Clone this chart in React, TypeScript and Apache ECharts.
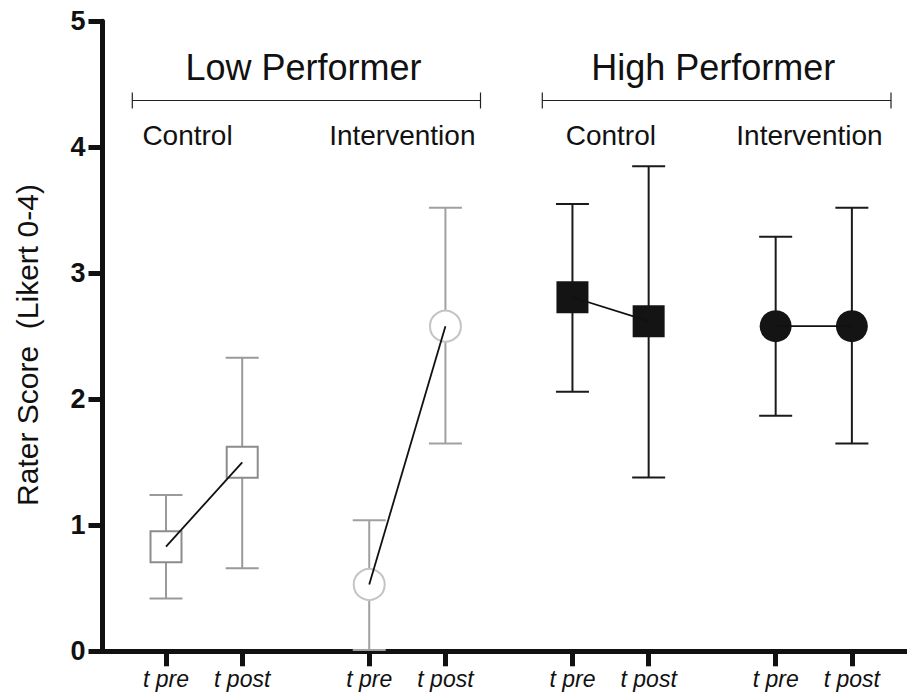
import React, { useEffect, useRef } from "react";
import * as echarts from "echarts";

// ---- data ----
const xLabels = ["t pre", "t post", "t pre", "t post", "t pre", "t post", "t pre", "t post"];
const xPositions = [2.5, 5.5, 10.5, 13.5, 18.5, 21.5, 26.5, 29.5];
const yTicks = [0, 1, 2, 3, 4, 5];

const lowControlMean = [0.83, 1.5];
const lowControlLow = [0.42, 0.66];
const lowControlHigh = [1.24, 2.33];

const lowInterventionMean = [0.53, 2.58];
const lowInterventionLow = [0.01, 1.65];
const lowInterventionHigh = [1.04, 3.52];

const highControlMean = [2.81, 2.62];
const highControlLow = [2.06, 1.38];
const highControlHigh = [3.55, 3.85];

const highInterventionMean = [2.58, 2.58];
const highInterventionLow = [1.87, 1.65];
const highInterventionHigh = [3.29, 3.52];

const groupTitles = ["Low Performer", "High Performer"];
const subTitles = ["Control", "Intervention", "Control", "Intervention"];
const yAxisTitle = "Rater Score  (Likert 0-4)";

const FONT = "'Liberation Sans', Arial, Helvetica, sans-serif";

export default function App() {
  const ref = useRef<HTMLDivElement>(null);
  useEffect(() => {
    document.body.style.margin = "0";
    const chart = echarts.init(ref.current!, null, { renderer: "svg" });

    const groups = [
      { mean: lowControlMean, lo: lowControlLow, hi: lowControlHigh, xi: [0, 1], symbol: "rect", size: 31, bar: "#9a9a9a", fill: "#ffffff", border: "#8c8c8c", bw: 2 },
      { mean: lowInterventionMean, lo: lowInterventionLow, hi: lowInterventionHigh, xi: [2, 3], symbol: "circle", size: 31, bar: "#a0a0a0", fill: "#ffffff", border: "#c4c4c4", bw: 2 },
      { mean: highControlMean, lo: highControlLow, hi: highControlHigh, xi: [4, 5], symbol: "rect", size: 32, bar: "#1a1a1a", fill: "#141414", border: "#141414", bw: 0 },
      { mean: highInterventionMean, lo: highInterventionLow, hi: highInterventionHigh, xi: [6, 7], symbol: "circle", size: 32, bar: "#1a1a1a", fill: "#141414", border: "#141414", bw: 0 },
    ];

    const series: any[] = [];
    groups.forEach((g) => {
      const barColor = g.bar;
      series.push({
        type: "custom",
        z: 1,
        silent: true,
        data: g.xi.map((xi, k) => [xPositions[xi], g.lo[k], g.hi[k]]),
        renderItem: (params: any, api: any) => {
          const x = api.value(0);
          const pLo = api.coord([x, api.value(1)]);
          const pHi = api.coord([x, api.value(2)]);
          const hw = 16.5;
          const style = { stroke: barColor, lineWidth: 2, fill: "none" };
          return {
            type: "group",
            children: [
              { type: "line", shape: { x1: pLo[0], y1: pLo[1], x2: pHi[0], y2: pHi[1] }, style },
              { type: "line", shape: { x1: pLo[0] - hw, y1: pLo[1], x2: pLo[0] + hw, y2: pLo[1] }, style },
              { type: "line", shape: { x1: pHi[0] - hw, y1: pHi[1], x2: pHi[0] + hw, y2: pHi[1] }, style },
            ],
          };
        },
      });
      series.push({
        type: "scatter",
        z: 2,
        symbol: g.symbol,
        symbolSize: g.size,
        data: g.xi.map((xi, k) => [xPositions[xi], g.mean[k]]),
        itemStyle: { color: g.fill, borderColor: g.border, borderWidth: g.bw, opacity: 1 },
        silent: true,
      });
      series.push({
        type: "line",
        z: 3,
        symbol: "none",
        data: g.xi.map((xi, k) => [xPositions[xi], g.mean[k]]),
        lineStyle: { color: "#111111", width: 1.8 },
        silent: true,
      });
    });

    const textStyle = (size: number) => ({
      fill: "#111111",
      fontFamily: FONT,
      fontSize: size,
      align: "center",
      verticalAlign: "middle",
    });

    const bracket = (x1: number, x2: number, y: number) => [
      { type: "line", shape: { x1, y1: y, x2, y2: y }, style: { stroke: "#222", lineWidth: 1.2 } },
      { type: "line", shape: { x1, y1: y - 8, x2: x1, y2: y + 8 }, style: { stroke: "#222", lineWidth: 1.2 } },
      { type: "line", shape: { x1: x2, y1: y - 8, x2, y2: y + 8 }, style: { stroke: "#222", lineWidth: 1.2 } },
    ];

    chart.setOption({
      animation: false,
      grid: { left: 102.5, right: 0, top: 21.3, bottom: 43.7, containLabel: false },
      xAxis: {
        type: "value",
        min: 0,
        max: 31.67,
        splitLine: { show: false },
        axisLine: { show: true, onZero: false, lineStyle: { color: "#111", width: 5 } },
        axisTick: { show: true, customValues: xPositions, length: 15, lineStyle: { color: "#111", width: 5 } },
        axisLabel: {
          customValues: xPositions,
          formatter: (v: number) => {
            const i = xPositions.indexOf(v);
            return i >= 0 ? xLabels[i] : "";
          },
          margin: 16,
          fontFamily: FONT,
          fontStyle: "italic",
          fontSize: 23,
          color: "#111",
        },
      },
      yAxis: {
        type: "value",
        min: 0,
        max: 5,
        interval: 1,
        splitLine: { show: false },
        axisLine: { show: true, lineStyle: { color: "#111", width: 5 } },
        axisTick: { show: true, length: 14, lineStyle: { color: "#111", width: 5 } },
        axisLabel: {
          margin: 17,
          fontFamily: FONT,
          fontWeight: "bold",
          fontSize: 27,
          color: "#111",
          formatter: (v: number) => (yTicks.includes(v) ? String(v) : ""),
        },
      },
      graphic: [
        { type: "text", x: 27, y: 345, rotation: Math.PI / 2, style: { text: yAxisTitle, ...textStyle(30) } },
        { type: "text", x: 303.5, y: 67, style: { text: groupTitles[0], ...textStyle(36) } },
        { type: "text", x: 713.3, y: 67, style: { text: groupTitles[1], ...textStyle(36) } },
        ...bracket(132.3, 480.5, 100.5),
        ...bracket(542.3, 891, 100.5),
        { type: "text", x: 187.5, y: 135, style: { text: subTitles[0], ...textStyle(28) } },
        { type: "text", x: 402.3, y: 135, style: { text: subTitles[1], ...textStyle(28) } },
        { type: "text", x: 610.8, y: 135, style: { text: subTitles[2], ...textStyle(28) } },
        { type: "text", x: 809.5, y: 135, style: { text: subTitles[3], ...textStyle(28) } },
      ],
      series,
    });
    return () => chart.dispose();
  }, []);
  return <div ref={ref} style={{ width: 907, height: 695 }} />;
}
